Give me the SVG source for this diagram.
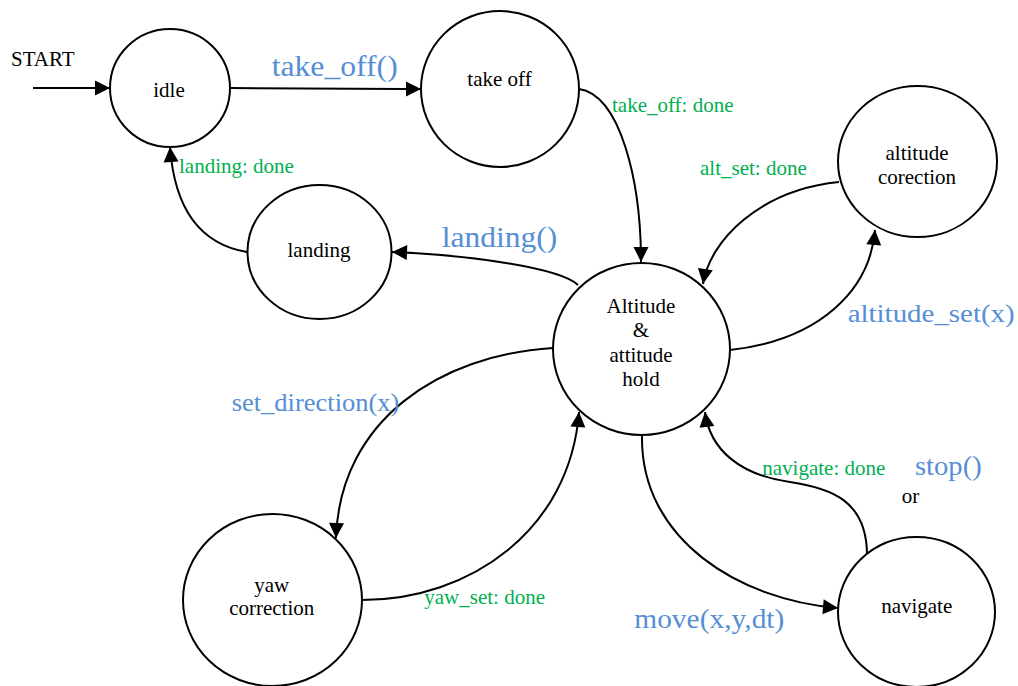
<svg xmlns="http://www.w3.org/2000/svg" width="1018" height="686" viewBox="0 0 1018 686">
<style>
.node{fill:#fff;stroke:#000;stroke-width:2}
.nt{font-family:"Liberation Serif",serif;font-size:21px;fill:#000;text-anchor:middle}
.lbl{font-family:"Liberation Serif",serif;font-size:21px;fill:#000}
.ok{font-family:"Liberation Serif",serif;font-size:21px;fill:#00B050}
.cmd{font-family:"Liberation Serif",serif;fill:#558ED5}
.edge{fill:none;stroke:#000;stroke-width:2;marker-end:url(#arr)}
</style>
<defs>
<marker id="arr" markerUnits="userSpaceOnUse" markerWidth="16" markerHeight="16" viewBox="0 0 15 16" refX="15" refY="8" orient="auto">
<path d="M0,0.5 L15,8 L0,15.5 Z" fill="#000"/>
</marker>
</defs>
<rect width="1018" height="686" fill="#fff"/>
<g id="connectors">
<path class="edge" d="M33,88 L110,88"/>
<path class="edge" d="M230,88 C300,88 360,89 421,89"/>
<path class="edge" d="M579,89 C620,95 641,180 641,262"/>
<path class="edge" d="M578,285 C560,268 470,255 392,252"/>
<path class="edge" d="M247,252 C205,245 175,215 170,147"/>
<path class="edge" d="M839,182 C760,190 710,240 703,284"/>
<path class="edge" d="M730,350 C820,340 870,290 875,230"/>
<path class="edge" d="M553,348 C440,355 340,420 336,538"/>
<path class="edge" d="M362,600 C470,600 570,530 579,412"/>
<path class="edge" d="M642,435 C640,540 740,600 838,608"/>
<path class="edge" d="M867,555 C867,500 830,488 790,482 C740,475 710,450 705,412"/>
</g>
<g id="labels">
<text class="lbl" x="11" y="66">START</text>
<text class="cmd" x="271.7" y="76" font-size="29" textLength="126" lengthAdjust="spacingAndGlyphs">take_off()</text>
<text class="cmd" x="441.7" y="246.5" font-size="30" textLength="115.6" lengthAdjust="spacingAndGlyphs">landing()</text>
<text class="cmd" x="847.7" y="321.7" font-size="26" textLength="167" lengthAdjust="spacingAndGlyphs">altitude_set(x)</text>
<text class="cmd" x="231.7" y="410.7" font-size="26" textLength="167.7" lengthAdjust="spacingAndGlyphs">set_direction(x)</text>
<text class="cmd" x="634.3" y="627.5" font-size="27" textLength="150" lengthAdjust="spacingAndGlyphs">move(x,y,dt)</text>
<text class="cmd" x="915" y="475" font-size="27" textLength="66.7" lengthAdjust="spacingAndGlyphs">stop()</text>
<text class="lbl" x="901.7" y="502.7" font-size="20">or</text>
<text class="ok" x="612" y="112">take_off: done</text>
<text class="ok" x="700" y="175">alt_set: done</text>
<text class="ok" x="179" y="172.7">landing: done</text>
<text class="ok" x="424.3" y="604">yaw_set: done</text>
<text class="ok" x="762.3" y="475">navigate: done</text>
</g>
<g id="idle">
<ellipse class="node" cx="170" cy="88" rx="60" ry="59"/>
<text class="nt" x="169" y="96.5">idle</text>
</g>
<g id="take_off">
<ellipse class="node" cx="500" cy="89" rx="79" ry="78"/>
<text class="nt" x="499.5" y="86">take off</text>
</g>
<g id="altitude_corection">
<ellipse class="node" cx="917.5" cy="161.5" rx="79.5" ry="75.5"/>
<text class="nt" x="917" y="160">altitude</text>
<text class="nt" x="917" y="184">corection</text>
</g>
<g id="landing">
<ellipse class="node" cx="319.5" cy="252" rx="72" ry="67"/>
<text class="nt" x="319" y="257.3">landing</text>
</g>
<g id="hold">
<ellipse class="node" cx="641.5" cy="349" rx="88.5" ry="86"/>
<text class="nt" x="641" y="312.7">Altitude</text>
<text class="nt" x="641" y="337">&amp;</text>
<text class="nt" x="641" y="361.7">attitude</text>
<text class="nt" x="641" y="386">hold</text>
</g>
<g id="yaw_correction">
<ellipse class="node" cx="272.5" cy="600" rx="89.5" ry="86"/>
<text class="nt" x="271.7" y="591.7">yaw</text>
<text class="nt" x="271.7" y="615">correction</text>
</g>
<g id="navigate">
<ellipse class="node" cx="916.5" cy="612" rx="78.5" ry="75"/>
<text class="nt" x="916.7" y="612.7">navigate</text>
</g>
</svg>
